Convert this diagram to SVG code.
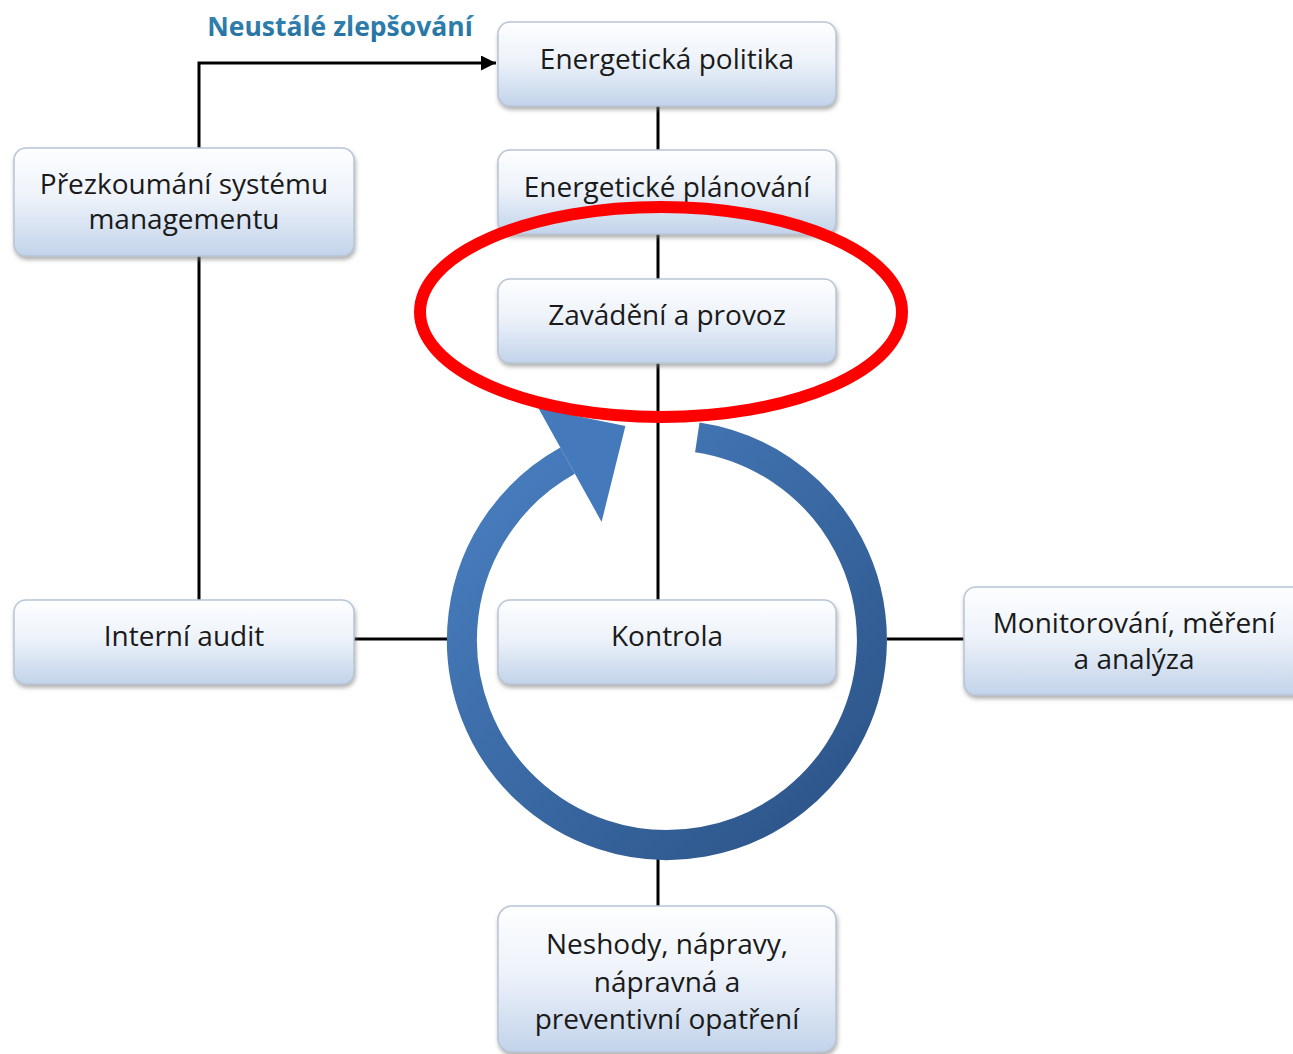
<svg xmlns="http://www.w3.org/2000/svg" width="1293" height="1054" viewBox="0 0 1293 1054">
<style>
.box{fill:url(#boxg);stroke:#b9c5d6;stroke-width:1.5;filter:url(#sh)}
.t{font-family:"Open Sans","Liberation Sans",sans-serif;font-size:28px;fill:#1a1a1a;text-anchor:middle}
.ln{stroke:#000;stroke-width:3;fill:none}
</style>
<defs>
<linearGradient id="boxg" x1="0" y1="0" x2="0" y2="1">
<stop offset="0" stop-color="#fdfeff"/>
<stop offset="0.45" stop-color="#eef3fa"/>
<stop offset="1" stop-color="#c2d3ea"/>
</linearGradient>
<linearGradient id="ringg" x1="0" y1="0" x2="1" y2="1">
<stop offset="0" stop-color="#4a80c2"/>
<stop offset="1" stop-color="#2a5285"/>
</linearGradient>
<linearGradient id="tg" x1="0" y1="0" x2="0" y2="1">
<stop offset="0" stop-color="#3a8ab8"/>
<stop offset="1" stop-color="#1f6d9c"/>
</linearGradient>
<filter id="sh" x="-10%" y="-10%" width="120%" height="130%">
<feDropShadow dx="1" dy="3" stdDeviation="2" flood-color="#7a7a7a" flood-opacity="0.6"/>
</filter>
<marker id="arr" viewBox="0 0 10 10" refX="10" refY="5" markerWidth="5" markerHeight="5" orient="auto" markerUnits="strokeWidth">
<path d="M0,0 L10,5 L0,10 z" fill="#000"/>
</marker>
</defs>
<rect width="1293" height="1054" fill="#fff"/>

<g id="connectors">
<polyline class="ln" points="199,148 199,63 496,63" marker-end="url(#arr)"/>
<line class="ln" x1="658" y1="106" x2="658" y2="150"/>
<line class="ln" x1="658" y1="234" x2="658" y2="279"/>
<line class="ln" x1="658" y1="363" x2="658" y2="600"/>
<line class="ln" x1="199" y1="256" x2="199" y2="600"/>
<line class="ln" x1="354" y1="639" x2="447" y2="639"/>
<line class="ln" x1="887" y1="639" x2="964" y2="639"/>
<line class="ln" x1="658" y1="857" x2="658" y2="906"/>
</g>

<g id="cycle">
<path d="M697.3,437.3 A205,205 0 1 1 567.6,460.7" fill="none" stroke="url(#ringg)" stroke-width="30"/>
<polygon points="538.5,408.2 625.4,426 601.6,521.9" fill="#4479bb"/>
</g>

<text x="340" y="36" font-family="'Open Sans','Liberation Sans',sans-serif" font-size="26.5" font-weight="bold" fill="url(#tg)" text-anchor="middle">Neustálé zlepšování</text>

<g id="n1"><rect class="box" x="498" y="22" width="338" height="84" rx="12"/><text class="t" x="667" y="69">Energetická politika</text></g>
<g id="n2"><rect class="box" x="498" y="150" width="338" height="84" rx="12"/><text class="t" x="667" y="197">Energetické plánování</text></g>
<g id="n3"><rect class="box" x="498" y="279" width="338" height="84" rx="12"/><text class="t" x="667" y="325">Zavádění a provoz</text></g>
<g id="n4"><rect class="box" x="498" y="600" width="338" height="84" rx="12"/><text class="t" x="667" y="646">Kontrola</text></g>
<g id="n5"><rect class="box" x="14" y="148" width="340" height="108" rx="12"/><text class="t" x="184" y="194">Přezkoumání systému</text><text class="t" x="184" y="229">managementu</text></g>
<g id="n6"><rect class="box" x="14" y="600" width="340" height="84" rx="12"/><text class="t" x="184" y="646">Interní audit</text></g>
<g id="n7"><rect class="box" x="964" y="587" width="345" height="108" rx="12"/><text class="t" x="1134" y="633">Monitorování, měření</text><text class="t" x="1134" y="669">a analýza</text></g>
<g id="n8"><rect class="box" x="498" y="906" width="338" height="146" rx="14"/><text class="t" x="667" y="954">Neshody, nápravy,</text><text class="t" x="667" y="992">nápravná a</text><text class="t" x="667" y="1029">preventivní opatření</text></g>

<ellipse id="highlight" cx="661" cy="312" rx="241" ry="105" fill="none" stroke="#ff0000" stroke-width="12"/>
</svg>
